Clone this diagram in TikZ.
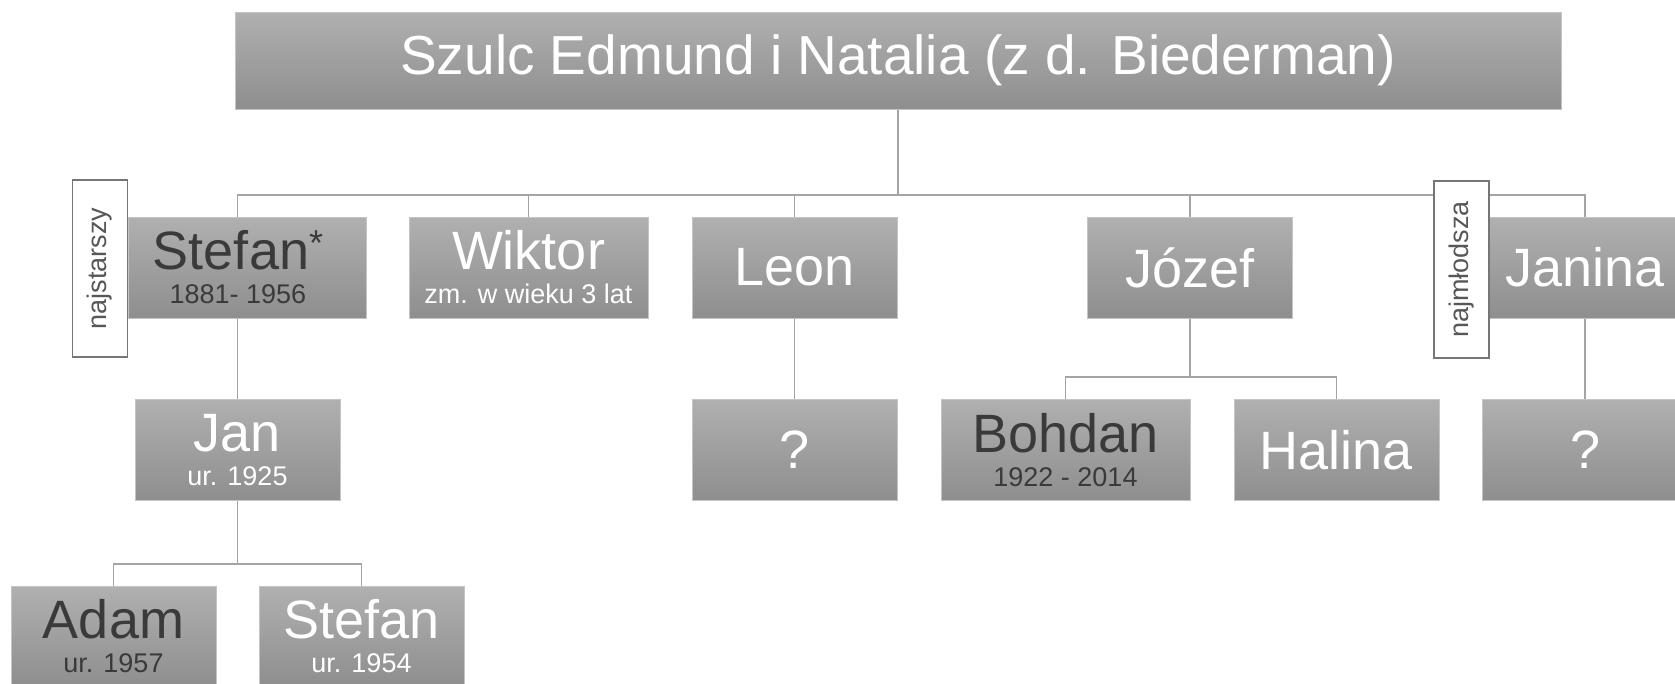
\documentclass[tikz,border=0pt]{standalone}
\usepackage{fontspec}
\setmainfont{Liberation Sans}
\usetikzlibrary{positioning}

\definecolor{boxtop}{HTML}{B0B0B0}
\definecolor{boxbot}{HTML}{8E8E8E}
\definecolor{boxedge}{HTML}{C4C4C4}
\definecolor{darktext}{HTML}{3A3A3A}
\definecolor{linkgray}{HTML}{A4A4A4}
\definecolor{tagedge}{HTML}{767676}
\definecolor{tagtext}{HTML}{575757}

\newcommand{\bigname}[1]{{\fontsize{54}{54}\selectfont #1}}

\tikzset{
  person/.style={draw=boxedge, line width=1pt, top color=boxtop, bottom color=boxbot,
    inner sep=0pt, minimum width=205pt, minimum height=101pt, align=center,
    text=white, font=\fontsize{27}{34}\selectfont},
  dark/.style={text=darktext},
  tag/.style={draw=tagedge, line width=1.6pt, fill=white, inner sep=0pt,
    minimum width=177pt, minimum height=55pt, rotate=90, text=tagtext,
    font=\fontsize{27}{27}\selectfont},
  link/.style={draw=linkgray, line width=1.5pt}
}

\begin{document}
\begin{tikzpicture}[x=1pt,y=-1pt]
\useasboundingbox (0,0) rectangle (1675,683);

% parents
\node[person, minimum width=1326pt, minimum height=97pt] (title) at (898,60.5)
  {\fontsize{55}{55}\selectfont Szulc Edmund i Natalia (z d. Biederman)};

% children
\node[person, dark, minimum width=238pt] (stefan) at (247,267.5)
  {\bigname{Stefan\raisebox{14pt}{\fontsize{36}{36}\selectfont *}}\hspace*{18pt}\\1881- 1956\hspace*{18pt}};
\node[person, minimum width=239pt] (wiktor) at (528.5,267.5)
  {\bigname{Wiktor}\\zm. w wieku 3 lat};
\node[person] (leon) at (794.5,267.5) {\bigname{Leon}};
\node[person] (jozef) at (1190,267.5) {\bigname{Józef}};
\node[person] (janina) at (1585,267.5) {\bigname{Janina}};

% grandchildren
\node[person] (jan) at (237.5,450) {\bigname{Jan}\\ur. 1925};
\node[person] (leonq) at (794.5,450) {\bigname{?}};
\node[person, dark, minimum width=249pt] (bohdan) at (1065.5,450)
  {\bigname{Bohdan}\\1922 - 2014};
\node[person] (halina) at (1336.5,450) {\bigname{Halina}};
\node[person] (janinaq) at (1585,450) {\bigname{?}};

% great-grandchildren
\node[person, dark] (adam) at (113.5,636.5) {\bigname{Adam}\\ur. 1957};
\node[person] (stefanb) at (361.5,636.5) {\bigname{Stefan}\\ur. 1954};

% connectors
\coordinate (bus) at (898,195);
\coordinate (jozefbus) at (1190,377);
\coordinate (janbus) at (237.5,564);
\draw[link] (title.south) -- (bus);
\draw[link] (jan.north |- stefan.north) |- (bus) -| (janina.north);
\foreach \n in {wiktor,leon,jozef}
  \draw[link] (\n.north) -- (\n.north |- bus);
\draw[link] (jan.north |- stefan.south) -- (jan.north);
\draw[link] (leon.south) -- (leonq.north);
\draw[link] (janina.south) -- (janinaq.north);
\draw[link] (jozef.south) -- (jozefbus);
\draw[link] (bohdan.north) |- (jozefbus) -| (halina.north);
\draw[link] (jan.south) -- (janbus);
\draw[link] (adam.north) |- (janbus) -| (stefanb.north);

% eldest / youngest
\node[tag] (eldest) at (100,268.5) {najstarszy};
\node[tag] (youngest) at (1461.5,269.5) {najmłodsza};
\end{tikzpicture}
\end{document}
